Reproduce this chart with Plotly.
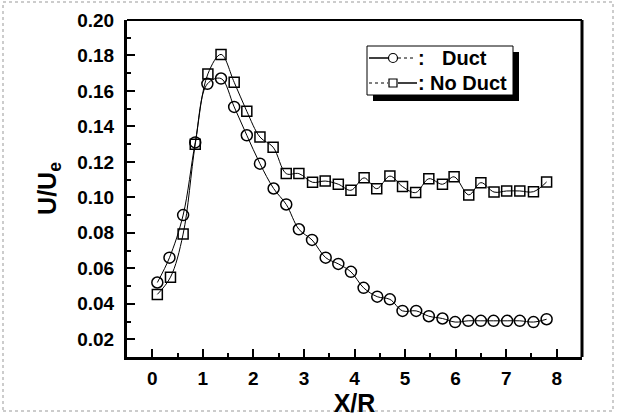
import plotly.graph_objects as go

# ---- data ----
duct_x = [0.10, 0.34, 0.61, 0.85, 1.09, 1.36, 1.62, 1.87, 2.13, 2.40, 2.65, 2.90, 3.16,
          3.43, 3.68, 3.93, 4.18, 4.45, 4.70, 4.95, 5.22, 5.47, 5.74, 5.99, 6.25, 6.50,
          6.75, 7.02, 7.27, 7.54, 7.80]
duct_y = [0.052, 0.066, 0.090, 0.131, 0.164, 0.167, 0.151, 0.135, 0.119, 0.105, 0.096,
          0.082, 0.076, 0.066, 0.0625, 0.058, 0.049, 0.044, 0.0425, 0.036, 0.036, 0.033,
          0.0317, 0.0297, 0.0304, 0.0304, 0.0304, 0.0304, 0.0304, 0.0297, 0.0313]

noduct_x = [0.10, 0.36, 0.61, 0.85, 1.10, 1.36, 1.62, 1.87, 2.13, 2.39, 2.65, 2.90, 3.17,
            3.42, 3.68, 3.93, 4.19, 4.44, 4.70, 4.95, 5.21, 5.47, 5.74, 5.97, 6.26, 6.50,
            6.76, 7.01, 7.27, 7.54, 7.80]
noduct_y = [0.0453, 0.055, 0.0793, 0.130, 0.1696, 0.1806, 0.1649, 0.1485, 0.134, 0.1283,
            0.1134, 0.1134, 0.1085, 0.1092, 0.1074, 0.104, 0.111, 0.1049, 0.112, 0.1061,
            0.1027, 0.1105, 0.1074, 0.1116, 0.1014, 0.1083, 0.103, 0.1036, 0.1036, 0.1032,
            0.1087]

series_names = ["Duct", "No Duct"]
x_title = "X/R"
y_title = "U/U<sub>e</sub>"

FONT = "Liberation Sans, Arial, sans-serif"

fig = go.Figure()
fig.add_trace(go.Scatter(
    x=duct_x, y=duct_y, name=series_names[0], mode="lines+markers", showlegend=False,
    line=dict(color="black", width=1, shape="spline", smoothing=1),
    marker=dict(symbol="circle-open", size=11, color="black", line=dict(width=1.5)),
))
fig.add_trace(go.Scatter(
    x=noduct_x, y=noduct_y, name=series_names[1], mode="lines+markers", showlegend=False,
    line=dict(color="black", width=1, shape="spline", smoothing=1),
    marker=dict(symbol="square-open", size=10, color="black", line=dict(width=1.5)),
))

W, H = 619, 417
L, R, T, B = 127, 37, 20, 60
pw, ph = W - L - R, H - T - B


def px(x):
    return (x - L) / pw


def py(y):
    return (H - B - y) / ph


def pline(x0, x1, y, width=1, dash="solid"):
    return dict(type="line", xref="paper", yref="paper", x0=px(x0), x1=px(x1),
                y0=py(y), y1=py(y), line=dict(color="black", width=width, dash=dash))


def pmarker(kind, cx, cy, r):
    return dict(type=kind, xref="paper", yref="paper",
                xsizemode="pixel", ysizemode="pixel",
                xanchor=px(cx), yanchor=py(cy), x0=-r, x1=r, y0=-r, y1=r,
                fillcolor="white", line=dict(color="black", width=1.2))


row_y = [58, 83]
shapes = [
    # top and right frame
    dict(type="line", xref="paper", yref="paper", x0=0, x1=1, y0=1, y1=1,
         line=dict(color="black", width=2)),
    dict(type="line", xref="paper", yref="paper", x0=1, x1=1, y0=0, y1=1,
         line=dict(color="black", width=3)),
    # legend shadow and box
    dict(type="rect", xref="paper", yref="paper", x0=px(373), x1=px(519),
         y0=py(101), y1=py(52), fillcolor="black", line=dict(width=0)),
    dict(type="rect", xref="paper", yref="paper", x0=px(367), x1=px(513),
         y0=py(95), y1=py(46), fillcolor="white", line=dict(color="black", width=1)),
    # legend samples
    pline(369, 388, row_y[0], 1.5),
    pline(398, 416, row_y[0], 1, "dot"),
    pmarker("circle", 393, row_y[0], 4.5),
    pline(369, 388, row_y[1], 1, "dot"),
    pline(398, 417, row_y[1], 1.5),
    pmarker("rect", 393, row_y[1], 4),
    # dotted page border
    dict(type="rect", xref="paper", yref="paper", x0=px(3), x1=px(613),
         y0=py(411), y1=py(2), line=dict(color="#999999", width=1, dash="dot")),
]

legend_font = dict(family=FONT, size=20, weight="bold", color="black")
annotations = [
    dict(xref="paper", yref="paper", x=px(421), y=py(row_y[0]), text=":", showarrow=False,
         xanchor="center", yanchor="middle", font=legend_font),
    dict(xref="paper", yref="paper", x=px(440), y=py(row_y[0]), text=series_names[0],
         showarrow=False, xanchor="left", yanchor="middle", font=legend_font),
    dict(xref="paper", yref="paper", x=px(421), y=py(row_y[1]), text=":", showarrow=False,
         xanchor="center", yanchor="middle", font=legend_font),
    dict(xref="paper", yref="paper", x=px(428), y=py(row_y[1]), text=series_names[1],
         showarrow=False, xanchor="left", yanchor="middle", font=legend_font),
]

fig.update_layout(
    width=W, height=H,
    margin=dict(l=L, r=R, t=T, b=B, autoexpand=False),
    paper_bgcolor="white", plot_bgcolor="white",
    font=dict(family=FONT, color="black"),
    shapes=shapes, annotations=annotations,
    showlegend=False,
)

fig.update_xaxes(
    range=[-0.5, 8.5], dtick=1, tick0=0, automargin=False,
    showgrid=False, zeroline=False,
    showline=True, linewidth=3, linecolor="black",
    ticks="inside", ticklen=8, tickwidth=2, tickcolor="black",
    minor=dict(dtick=0.5, ticks="inside", ticklen=4, tickwidth=2, tickcolor="black", showgrid=False),
    tickfont=dict(family=FONT, size=19, weight="bold"),
    ticklabelstandoff=2,
    title=dict(text=x_title, font=dict(family=FONT, size=25, weight="bold"), standoff=10),
)
fig.update_yaxes(
    range=[0.01, 0.20], dtick=0.02, tick0=0, tickformat=".2f", automargin=False,
    showgrid=False, zeroline=False,
    showline=True, linewidth=3, linecolor="black",
    ticks="inside", ticklen=8, tickwidth=2, tickcolor="black",
    minor=dict(dtick=0.01, ticks="inside", ticklen=4, tickwidth=2, tickcolor="black", showgrid=False),
    tickfont=dict(family=FONT, size=19, weight="bold"),
    ticklabelstandoff=6,
    title=dict(text=y_title, font=dict(family=FONT, size=25, weight="bold"), standoff=14),
)

fig.write_html(
    "out.html",
    config={"displayModeBar": False, "staticPlot": True},
    post_script="document.body.style.margin='0';document.body.style.overflow='hidden';",
)
